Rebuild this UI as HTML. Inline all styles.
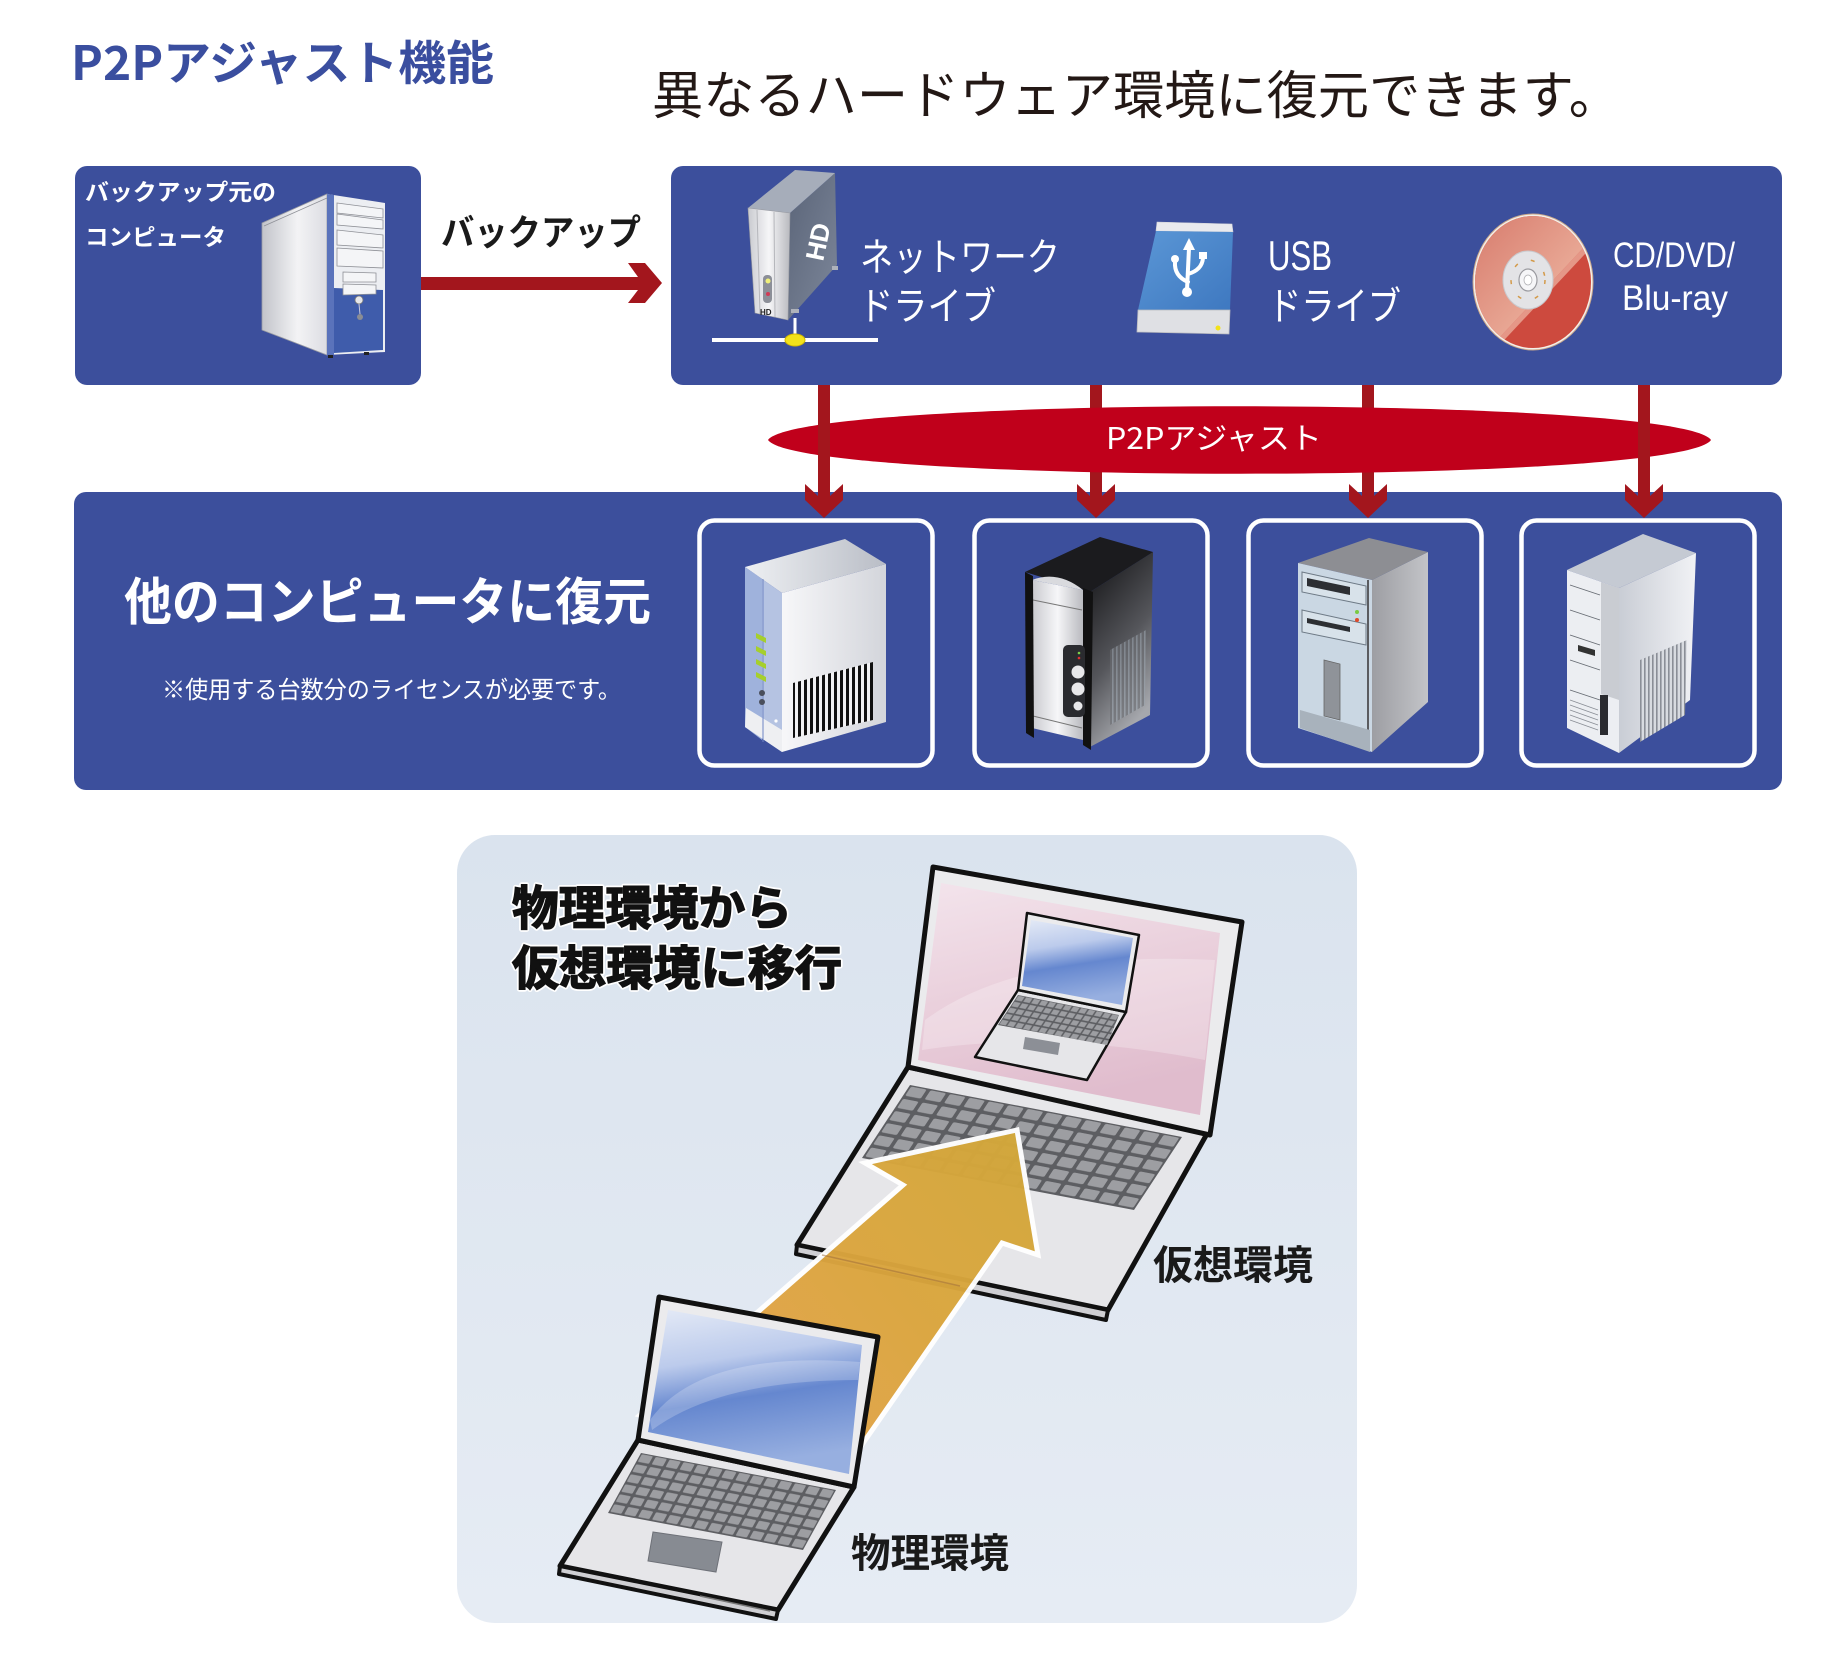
<!DOCTYPE html>
<html><head><meta charset="utf-8">
<style>
html,body{margin:0;padding:0;background:#ffffff;}
svg{display:block;}
.jp{font-family:"Liberation Sans","Noto Sans CJK JP",sans-serif;}
.jpo{font-family:"Noto Sans CJK JP","Liberation Sans",sans-serif;}
</style></head><body>
<svg width="1844" height="1662" viewBox="0 0 1844 1662" xmlns="http://www.w3.org/2000/svg">
<defs>
  <linearGradient id="pcSide" x1="0" y1="0" x2="1" y2="0">
    <stop offset="0" stop-color="#c2c4ca"/><stop offset="0.55" stop-color="#f3f3f5"/><stop offset="1" stop-color="#dcdde2"/>
  </linearGradient>
  <linearGradient id="silverV" x1="0" y1="0" x2="1" y2="0">
    <stop offset="0" stop-color="#c9cacf"/><stop offset="0.5" stop-color="#f6f6f8"/><stop offset="1" stop-color="#b9babf"/>
  </linearGradient>
  <linearGradient id="hdSide" x1="0" y1="0" x2="1" y2="1">
    <stop offset="0" stop-color="#5a6478"/><stop offset="1" stop-color="#7d879a"/>
  </linearGradient>
  <linearGradient id="usbBody" x1="0" y1="0" x2="1" y2="1">
    <stop offset="0" stop-color="#5b97d6"/><stop offset="1" stop-color="#3e78c0"/>
  </linearGradient>
  <linearGradient id="cdLight" x1="0" y1="0" x2="1" y2="1">
    <stop offset="0" stop-color="#d6786a"/><stop offset="0.6" stop-color="#e9a996"/><stop offset="1" stop-color="#f3d2bd"/>
  </linearGradient>
  <clipPath id="cdClip"><ellipse cx="1533" cy="282" rx="58" ry="66"/></clipPath>
  <linearGradient id="srvSide1" x1="0" y1="0" x2="1" y2="0">
    <stop offset="0" stop-color="#f7f7f9"/><stop offset="1" stop-color="#d3d5db"/>
  </linearGradient>
  <linearGradient id="srvTop1" x1="0" y1="0" x2="1" y2="0">
    <stop offset="0" stop-color="#eef0f3"/><stop offset="1" stop-color="#b9bdc6"/>
  </linearGradient>
  <linearGradient id="blkSide" x1="0" y1="0" x2="0.4" y2="1">
    <stop offset="0" stop-color="#0e0e10"/><stop offset="0.6" stop-color="#55565b"/><stop offset="1" stop-color="#a6a8ad"/>
  </linearGradient>
  <linearGradient id="grySide" x1="0" y1="0" x2="1" y2="0">
    <stop offset="0" stop-color="#9d9ea3"/><stop offset="1" stop-color="#c3c4c8"/>
  </linearGradient>
  <linearGradient id="wSide4" x1="0" y1="0" x2="1" y2="0">
    <stop offset="0" stop-color="#c9cdd5"/><stop offset="1" stop-color="#f1f2f5"/>
  </linearGradient>
  <pattern id="vent" width="6" height="10" patternUnits="userSpaceOnUse">
    <rect width="6" height="10" fill="#f2f2f4"/><rect x="0" width="3" height="10" fill="#111"/>
  </pattern>
  <pattern id="vent2" width="4" height="10" patternUnits="userSpaceOnUse">
    <rect width="4" height="10" fill="#d8dbe0"/><rect x="0" width="1.6" height="10" fill="#8a8e96"/>
  </pattern>
  <pattern id="vent3" width="4" height="10" patternUnits="userSpaceOnUse">
    <rect width="4" height="10" fill="#6b6d72"/><rect x="0" width="1.6" height="10" fill="#9aa3ad"/>
  </pattern>
  <linearGradient id="panelBg" x1="0" y1="0" x2="0" y2="1">
    <stop offset="0" stop-color="#dae3ee"/><stop offset="1" stop-color="#e6ecf4"/>
  </linearGradient>
  <linearGradient id="pinkScr" x1="0" y1="0" x2="0.3" y2="1">
    <stop offset="0" stop-color="#f3e4ec"/><stop offset="0.5" stop-color="#ead0dc"/><stop offset="1" stop-color="#e0bccd"/>
  </linearGradient>
  <linearGradient id="blueScr" x1="0" y1="0" x2="0.2" y2="1">
    <stop offset="0" stop-color="#e4eaf6"/><stop offset="0.35" stop-color="#bccbec"/><stop offset="0.6" stop-color="#6587cf"/><stop offset="1" stop-color="#97afe0"/>
  </linearGradient>
  <linearGradient id="arrowG" gradientUnits="userSpaceOnUse" x1="720" y1="1400" x2="1020" y2="1140">
    <stop offset="0" stop-color="#e4a44c"/><stop offset="0.5" stop-color="#dba53e"/><stop offset="1" stop-color="#d3a83a"/>
  </linearGradient>
  <pattern id="kbBig" width="10" height="10" patternUnits="userSpaceOnUse" patternTransform="matrix(1.943 0.371 -0.8 1.217 910 1085)">
    <rect width="10" height="10" fill="#5d5e62"/><rect x="1" y="1" width="8" height="7.5" rx="1" fill="#9d9ea2"/>
  </pattern>
  <pattern id="kbSmall" width="10" height="10" patternUnits="userSpaceOnUse" patternTransform="matrix(1.393 0.264 -0.55 1.0 641 1453)">
    <rect width="10" height="10" fill="#5d5e62"/><rect x="1" y="1" width="8" height="7.5" rx="1" fill="#9d9ea2"/>
  </pattern>
  <pattern id="kbInner" width="10" height="10" patternUnits="userSpaceOnUse" patternTransform="matrix(0.785 0.154 -0.4 0.6 1018 995)">
    <rect width="10" height="10" fill="#5d5e62"/><rect x="1" y="1" width="8" height="7.5" fill="#9d9ea2"/>
  </pattern>
</defs>

<!-- ============ TITLES ============ -->
<text class="jpo" x="71" y="80" font-size="47" font-weight="bold" fill="#3a4e9f" textLength="423" lengthAdjust="spacingAndGlyphs">P2Pアジャスト機能</text>
<text class="jpo" x="652" y="114" font-size="52" fill="#231815" textLength="968" lengthAdjust="spacingAndGlyphs">異なるハードウェア環境に復元できます。</text>

<!-- ============ LEFT SOURCE BOX ============ -->
<rect x="75" y="166" width="346" height="219" rx="12" fill="#3c4f9c"/>
<text class="jpo" x="85" y="200" font-size="23" font-weight="bold" fill="#ffffff" textLength="191" lengthAdjust="spacingAndGlyphs">バックアップ元の</text>
<text class="jpo" x="85" y="245" font-size="23" font-weight="bold" fill="#ffffff" textLength="141" lengthAdjust="spacingAndGlyphs">コンピュータ</text>
<!-- source PC -->
<polygon points="262,223 327,194 327,355 262,330" fill="url(#pcSide)" stroke="#9a9ca4" stroke-width="0.8"/>
<line x1="264" y1="226" x2="327" y2="198" stroke="#8f9198" stroke-width="0.8"/>
<polygon points="327,194 385,203 385,352 327,355" fill="#eceef2"/>
<polygon points="327,194 334,195 334,355 327,355" fill="#5a73bb"/>
<polygon points="334,288 383,290 383,350 334,353" fill="#3f5cab"/>
<g fill="#f4f5f7" stroke="#8e9096" stroke-width="0.8">
  <polygon points="337,203 383,209 383,218 337,213"/>
  <polygon points="337,214 383,220 383,229 337,225"/>
  <polygon points="337,230 383,235 383,248 337,245"/>
  <polygon points="337,248 383,251 383,268 337,266"/>
  <polygon points="343,272 376,273 376,282 343,282"/>
  <polygon points="343,284 376,285 376,294 343,295"/>
</g>
<circle cx="359" cy="300" r="4" fill="#e6e7ea" stroke="#777" stroke-width="0.8"/>
<line x1="359" y1="304" x2="360" y2="314" stroke="#ccd" stroke-width="1"/>
<circle cx="360" cy="317" r="3" fill="#8b8d93"/>
<rect x="328" y="355" width="5" height="3" fill="#222"/>
<rect x="364" y="352" width="5" height="3" fill="#222"/>

<!-- backup label + arrow -->
<text class="jpo" x="441" y="245" font-size="36" font-weight="bold" fill="#1a1a1a" textLength="200" lengthAdjust="spacingAndGlyphs">バックアップ</text>
<polygon points="421,277 638,277 628,263 645,263 662,283 645,303 628,303 638,290 421,290" fill="#a3161d"/>

<!-- ============ RIGHT MEDIA BOX ============ -->
<rect x="671" y="166" width="1111" height="219" rx="12" fill="#3c4f9c"/>
<!-- HD drive -->
<line x1="795" y1="318" x2="795" y2="340" stroke="#ffffff" stroke-width="3"/>
<rect x="712" y="338" width="166" height="4" fill="#ffffff"/>
<ellipse cx="795" cy="340" rx="10" ry="6" fill="#f3e21a" stroke="#d2b800" stroke-width="1"/>
<polygon points="790,213 835,173 837,265 788,320" fill="url(#hdSide)"/>
<polygon points="748,208 795,170 835,173 790,213" fill="#a6adba"/>
<polygon points="748,208 790,213 788,320 755,313" fill="url(#silverV)" stroke="#9a9ca2" stroke-width="0.6"/>
<line x1="757" y1="210" x2="760" y2="314" stroke="#b5b6bb" stroke-width="1"/>
<line x1="774" y1="212" x2="775" y2="317" stroke="#b5b6bb" stroke-width="1"/>
<rect x="763" y="275" width="9" height="28" rx="4" fill="#8c8f98"/>
<circle cx="768" cy="281" r="2.5" fill="#f0f07a"/>
<circle cx="768" cy="294" r="2" fill="#d23a55"/>
<text x="760" y="315" font-family="Liberation Sans" font-size="8" font-weight="bold" fill="#222">HD</text>
<text x="0" y="0" font-family="Liberation Sans" font-size="26" font-weight="bold" fill="#ffffff" transform="translate(823,262) rotate(-78)">HD</text>
<rect x="832" y="266" width="6" height="4" fill="#aeb2bb"/>
<rect x="791" y="309" width="8" height="4" fill="#aeb2bb"/>
<text class="jpo" x="860" y="271" font-size="39" fill="#ffffff" textLength="200" lengthAdjust="spacingAndGlyphs">ネットワーク</text>
<text class="jpo" x="859" y="320" font-size="39" fill="#ffffff" textLength="137" lengthAdjust="spacingAndGlyphs">ドライブ</text>

<!-- USB drive -->
<polygon points="1157,222 1232,224 1233,232 1156,231" fill="#e9eaee" stroke="#cfd0d5" stroke-width="0.6"/>
<polygon points="1156,231 1233,232 1230,310 1138,310" fill="url(#usbBody)"/>
<polygon points="1138,310 1230,310 1229,334 1137,332" fill="#dfe0e4" stroke="#b8b9be" stroke-width="0.8"/>
<circle cx="1218" cy="328" r="2.5" fill="#f3e21a"/>
<g stroke="#ffffff" stroke-width="4" fill="none" stroke-linecap="round">
  <line x1="1189" y1="248" x2="1187" y2="290"/>
  <path d="M1188,282 Q1174,276 1175,262"/>
  <path d="M1188,274 Q1202,270 1203,258"/>
</g>
<polygon points="1189,238 1195,250 1183,250" fill="#ffffff"/>
<circle cx="1187" cy="292" r="5" fill="#ffffff"/>
<circle cx="1175" cy="259" r="4" fill="#ffffff"/>
<rect x="1199" y="252" width="8" height="7" fill="#ffffff"/>
<text font-family="Liberation Sans" x="1268" y="270" font-size="42" fill="#ffffff" textLength="64" lengthAdjust="spacingAndGlyphs">USB</text>
<text class="jpo" x="1268" y="320" font-size="39" fill="#ffffff" textLength="133" lengthAdjust="spacingAndGlyphs">ドライブ</text>

<!-- CD -->
<ellipse cx="1533" cy="282" rx="60" ry="68" fill="#f4efe9" stroke="#c9a88c" stroke-width="1"/>
<g clip-path="url(#cdClip)">
  <rect x="1470" y="210" width="130" height="145" fill="#cd4a3e"/>
  <polygon points="1470,210 1600,210 1600,230 1486,352 1470,352" fill="url(#cdLight)"/>
  <polygon points="1600,230 1486,352 1493,352 1600,238" fill="#f0b8a6" opacity="0.7"/>
</g>
<ellipse cx="1528" cy="280" rx="25" ry="29" fill="#e3e3e6" stroke="#c9c9cd" stroke-width="1"/>
<ellipse cx="1528" cy="280" rx="17" ry="20" fill="none" stroke="#d39a4a" stroke-width="1.5" stroke-dasharray="4 14"/>
<ellipse cx="1528" cy="280" rx="9" ry="11" fill="#f6f6f8" stroke="#9a9a9f" stroke-width="1.2"/>
<ellipse cx="1528" cy="280" rx="4" ry="5" fill="#ffffff" stroke="#b0b0b4" stroke-width="0.8"/>
<text font-family="Liberation Sans" x="1613" y="267" font-size="35" fill="#ffffff" textLength="122" lengthAdjust="spacingAndGlyphs">CD/DVD/</text>
<text font-family="Liberation Sans" x="1622" y="310" font-size="35" fill="#ffffff" textLength="106" lengthAdjust="spacingAndGlyphs">Blu-ray</text>

<!-- ============ LOWER TARGET BOX ============ -->
<rect x="74" y="492" width="1708" height="298" rx="12" fill="#3c4f9c"/>
<text class="jpo" x="124" y="620" font-size="51" font-weight="bold" fill="#ffffff" textLength="527" lengthAdjust="spacingAndGlyphs">他のコンピュータに復元</text>
<text class="jpo" x="162" y="698" font-size="24" fill="#ffffff" textLength="459" lengthAdjust="spacingAndGlyphs">※使用する台数分のライセンスが必要です。</text>

<g fill="none" stroke="#ffffff" stroke-width="4.5">
  <rect x="699.5" y="520.5" width="233" height="245" rx="15"/>
  <rect x="974.5" y="520.5" width="233" height="245" rx="15"/>
  <rect x="1248.5" y="520.5" width="233" height="245" rx="15"/>
  <rect x="1521.5" y="520.5" width="233" height="245" rx="15"/>
</g>

<!-- Arrows & P2P ellipse -->
<g fill="#a3161d">
  <polygon points="1090,385 1102,385 1102,496 1115,484 1115,500 1096,518 1077,500 1077,484 1090,496"/>
  <polygon points="1362,385 1374,385 1374,496 1387,484 1387,500 1368,518 1349,500 1349,484 1362,496"/>
</g>
<path d="M768,440 C800,395 1680,395 1711,440 C1680,485 800,485 768,440 Z" fill="#c0001b"/>
<g fill="#a3161d">
  <polygon points="818,385 830,385 830,496 843,484 843,500 824,518 805,500 805,484 818,496"/>
  <polygon points="1638,385 1650,385 1650,496 1663,484 1663,500 1644,518 1625,500 1625,484 1638,496"/>
</g>
<text class="jpo" x="1106" y="449" font-size="30" fill="#ffffff" textLength="216" lengthAdjust="spacingAndGlyphs">P2Pアジャスト</text>

<!-- Server 1 -->
<polygon points="782,593 886,564 886,722 782,752" fill="url(#srvSide1)"/>
<polygon points="745,567 845,539 886,564 782,593" fill="url(#srvTop1)"/>
<polygon points="745,567 782,593 782,752 745,727" fill="#b5c3e2"/>
<polygon points="745,567 762,579 762,740 745,727" fill="#9fb2dc"/>
<polygon points="746,708 782,730 782,752 745,727" fill="#eeeff2"/>
<line x1="763" y1="579" x2="763" y2="742" stroke="#6f86c4" stroke-width="1"/>
<g fill="#a6cf2c">
  <polygon points="756,633 766,638 766,643 756,638"/>
  <polygon points="756,646 766,651 766,656 756,651"/>
  <polygon points="756,659 766,664 766,669 756,664"/>
  <polygon points="756,672 766,677 766,682 756,677"/>
</g>
<circle cx="762" cy="693" r="3" fill="#4a4f5c"/>
<circle cx="762" cy="702" r="3" fill="#4a4f5c"/>
<circle cx="776" cy="721" r="1.6" fill="#ffffff"/>
<polygon points="793,683 873,662 873,720 793,738" fill="url(#vent)"/>

<!-- Server 2 -->
<polygon points="1090,592 1153,552 1150,715 1088,748" fill="url(#blkSide)"/>
<polygon points="1110,650 1146,630 1145,705 1110,725" fill="url(#vent3)" opacity="0.6"/>
<polygon points="1025,572 1100,537 1153,552 1090,592" fill="#1b1b1e"/>
<polygon points="1032,580 1083,590 1083,740 1032,728" fill="url(#silverV)"/>
<path d="M1032,580 Q1058,570 1083,590" fill="#d9dade"/>
<line x1="1033" y1="600" x2="1082" y2="610" stroke="#777" stroke-width="1"/>
<line x1="1033" y1="716" x2="1082" y2="728" stroke="#777" stroke-width="1"/>
<polygon points="1025,572 1033,576 1034,738 1026,733" fill="#111"/>
<polygon points="1083,588 1093,592 1091,750 1083,745" fill="#111"/>
<rect x="1063" y="645" width="22" height="72" rx="5" fill="#2a2b2f"/>
<circle cx="1078" cy="672" r="6.5" fill="#e8e8ea"/>
<circle cx="1078" cy="689" r="6.5" fill="#e8e8ea"/>
<circle cx="1078" cy="706" r="4.5" fill="#e8e8ea"/>
<circle cx="1079" cy="653" r="1.3" fill="#7bd04a"/>
<circle cx="1079" cy="658" r="1.3" fill="#e03030"/>

<!-- Server 3 -->
<polygon points="1372,580 1428,552 1428,702 1372,752" fill="url(#grySide)"/>
<polygon points="1298,563 1369,538 1428,552 1372,580" fill="#8d8e93"/>
<polygon points="1298,563 1372,580 1372,752 1298,728" fill="#cad7e3"/>
<line x1="1368" y1="580" x2="1368" y2="751" stroke="#5b5c60" stroke-width="2"/>
<polygon points="1300,710 1370,730 1370,752 1300,728" fill="#a8b2bc"/>
<g stroke="#6e7a86" stroke-width="1" fill="#d8e2ea">
  <polygon points="1302,572 1366,586 1366,605 1302,592"/>
  <polygon points="1302,610 1366,624 1366,645 1302,632"/>
</g>
<polygon points="1307,578 1350,587 1350,595 1307,586" fill="#2d2f33"/>
<polygon points="1307,618 1350,627 1350,632 1307,623" fill="#2d2f33"/>
<circle cx="1357" cy="612" r="2" fill="#7ac943"/>
<circle cx="1357" cy="620" r="2" fill="#e04a2a"/>
<polygon points="1324,660 1340,664 1340,720 1324,716" fill="#8f9399" stroke="#666" stroke-width="0.8"/>

<!-- Server 4 -->
<polygon points="1619,588 1696,553 1690,700 1619,753" fill="url(#wSide4)"/>
<polygon points="1640,660 1687,640 1685,715 1640,742" fill="url(#vent2)"/>
<polygon points="1567,570 1643,534 1696,553 1619,588" fill="#c5cad3"/>
<polygon points="1567,570 1619,588 1619,753 1567,728" fill="#eceef2"/>
<polygon points="1601,582 1619,588 1619,700 1601,694" fill="#c9ccd2"/>
<g stroke="#666a72" stroke-width="0.9">
  <line x1="1570" y1="585" x2="1600" y2="595"/>
  <line x1="1570" y1="610" x2="1600" y2="620"/>
  <line x1="1570" y1="635" x2="1600" y2="645"/>
  <line x1="1570" y1="660" x2="1600" y2="670"/>
  <line x1="1570" y1="690" x2="1600" y2="700"/>
</g>
<polygon points="1578,645 1595,650 1595,656 1578,651" fill="#333"/>
<g stroke="#8a8e96" stroke-width="0.9">
  <line x1="1570" y1="700" x2="1598" y2="710"/>
  <line x1="1570" y1="705" x2="1598" y2="715"/>
  <line x1="1570" y1="710" x2="1598" y2="720"/>
  <line x1="1570" y1="715" x2="1598" y2="725"/>
  <line x1="1570" y1="720" x2="1598" y2="730"/>
</g>
<rect x="1600" y="695" width="8" height="40" fill="#2a2b30"/>

<!-- ============ MIGRATION PANEL ============ -->
<rect x="457" y="835" width="900" height="788" rx="38" fill="url(#panelBg)"/>

<g class="jpo" font-weight="bold" font-size="47">
  <text x="512" y="925" textLength="280" lengthAdjust="spacingAndGlyphs" fill="#111" stroke="#ffffff" stroke-width="5" stroke-linejoin="round">物理環境から</text>
  <text x="512" y="925" textLength="280" lengthAdjust="spacingAndGlyphs" fill="#111" stroke="#111" stroke-width="1.5">物理環境から</text>
  <text x="512" y="985" textLength="330" lengthAdjust="spacingAndGlyphs" fill="#111" stroke="#ffffff" stroke-width="5" stroke-linejoin="round">仮想環境に移行</text>
  <text x="512" y="985" textLength="330" lengthAdjust="spacingAndGlyphs" fill="#111" stroke="#111" stroke-width="1.5">仮想環境に移行</text>
</g>

<!-- Big laptop (virtual) -->
<polygon points="908,1067 1208,1132 1108,1310 797,1245" fill="#e6e6e9" stroke="#111" stroke-width="5" stroke-linejoin="round"/>
<polygon points="797,1245 1108,1310 1106,1320 796,1254" fill="#cfcfd3" stroke="#111" stroke-width="4" stroke-linejoin="round"/>
<polygon points="910,1085 1182,1137 1134,1210 862,1158" fill="url(#kbBig)"/>
<polygon points="933,867 1242,922 1210,1135 908,1067" fill="#ebebed" stroke="#111" stroke-width="5" stroke-linejoin="round"/>
<polygon points="941,883 1220,933 1200,1115 918,1060" fill="url(#pinkScr)"/>
<path d="M925,1020 Q1020,950 1215,960 L1205,1060 Q1050,1030 922,1050 Z" fill="#ffffff" opacity="0.25"/>
<!-- inner laptop in screen -->
<polygon points="1018,990 1126,1012 1087,1080 975,1057" fill="#e6e6e9" stroke="#111" stroke-width="2.5" stroke-linejoin="round"/>
<polygon points="1018,995 1119,1015 1107,1045 998,1025" fill="url(#kbInner)"/>
<polygon points="1025,1037 1060,1043 1058,1055 1023,1049" fill="#8c8f96"/>
<polygon points="1027,913 1139,935 1126,1012 1018,990" fill="#ebebed" stroke="#111" stroke-width="2.5" stroke-linejoin="round"/>
<polygon points="1031,920 1133,938 1122,1005 1022,986" fill="url(#blueScr)"/>

<!-- Orange arrow -->
<polygon points="640,1415 903,1185 865,1163 1017,1130 1038,1255 1002,1243 850,1462" fill="url(#arrowG)" stroke="#ffffff" stroke-width="5" stroke-linejoin="miter" opacity="0.97"/>
<line x1="822" y1="1255" x2="960" y2="1286" stroke="#9b6a3a" stroke-width="1.5" opacity="0.5"/>

<!-- Small laptop (physical) -->
<polygon points="638,1440 854,1487 778,1610 560,1566" fill="#e6e6e9" stroke="#111" stroke-width="5" stroke-linejoin="round"/>
<polygon points="560,1566 778,1610 776,1619 559,1574" fill="#cfcfd3" stroke="#111" stroke-width="4" stroke-linejoin="round"/>
<line x1="700" y1="1596" x2="770" y2="1611" stroke="#777" stroke-width="1.5"/>
<polygon points="641,1453 836,1490 803,1550 608,1513" fill="url(#kbSmall)"/>
<polygon points="653,1532 722,1542 716,1572 648,1561" fill="#878b92" stroke="#6e7178" stroke-width="1"/>
<polygon points="659,1297 878,1337 854,1487 638,1440" fill="#ebebed" stroke="#111" stroke-width="5" stroke-linejoin="round"/>
<polygon points="668,1310 862,1345 849,1474 648,1432" fill="url(#blueScr)"/>
<path d="M650,1420 Q700,1350 860,1362 L858,1380 Q720,1380 652,1430 Z" fill="#ffffff" opacity="0.22"/>

<!-- Labels -->
<text class="jpo" x="1153" y="1279" font-size="40" font-weight="bold" fill="#1a1a1a" textLength="160" lengthAdjust="spacingAndGlyphs">仮想環境</text>
<text class="jpo" x="851" y="1567" font-size="40" font-weight="bold" fill="#1a1a1a" textLength="158" lengthAdjust="spacingAndGlyphs">物理環境</text>
</svg>
</body></html>
